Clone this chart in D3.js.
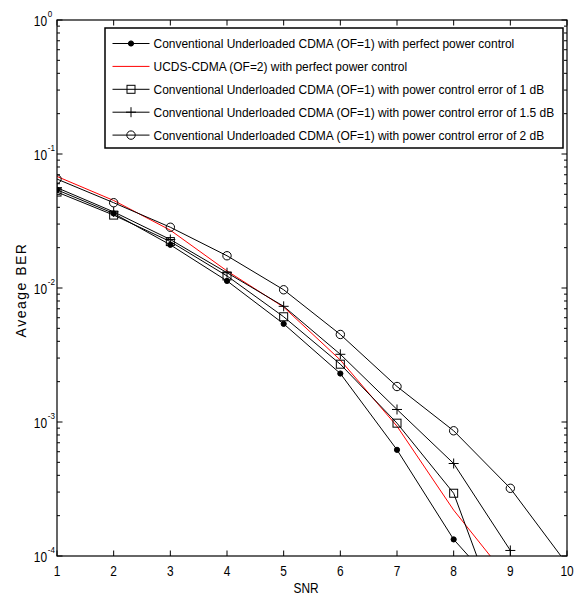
<!DOCTYPE html>
<html>
<head>
<meta charset="utf-8">
<script src="https://cdn.jsdelivr.net/npm/d3@7"></script>
<style>
  body { margin: 0; background: #fff; }
  svg text { font-family: "Liberation Sans", Arial, sans-serif; fill: #000; }
</style>
</head>
<body>
<div id="chart"></div>
<script>
// SNR values and BER curves
const snr = [1, 2, 3, 4, 5, 6, 7, 8, 9, 10];
const berConvPerfect = [0.054, 0.036, 0.021, 0.0113, 0.0054, 0.0023, 0.00062, 0.000133, 0.000045];
const berUcdsPerfect = [0.068, 0.045, 0.027, 0.0134, 0.0072, 0.0029, 0.00093, 0.00022, 0.000065];
const berPce1 = [0.052, 0.035, 0.0222, 0.0123, 0.0061, 0.0027, 0.00098, 0.000294, 0.000021];
const berPce15 = [0.056, 0.037, 0.023, 0.013, 0.0073, 0.0032, 0.00124, 0.00049, 0.00011];
const berPce2 = [0.065, 0.0433, 0.0284, 0.0174, 0.0097, 0.0045, 0.00184, 0.00086, 0.00032, 0.000087];

const legendLabels = [
  "Conventional Underloaded CDMA (OF=1) with perfect power control",
  "UCDS-CDMA (OF=2) with perfect power control",
  "Conventional Underloaded CDMA (OF=1) with power control error of 1 dB",
  "Conventional Underloaded CDMA (OF=1) with power control error of 1.5 dB",
  "Conventional Underloaded CDMA (OF=1) with power control error of 2 dB"
];
const xTicks = [1, 2, 3, 4, 5, 6, 7, 8, 9, 10];
const yMajor = [1, 1e-1, 1e-2, 1e-3, 1e-4];
const yExp = ["0", "-1", "-2", "-3", "-4"];

const series = [
  {values: berConvPerfect, color: "#000", marker: "dot"},
  {values: berUcdsPerfect, color: "#ff0000", marker: "none"},
  {values: berPce1, color: "#000", marker: "square"},
  {values: berPce15, color: "#000", marker: "plus"},
  {values: berPce2, color: "#000", marker: "circle"}
];

const W = 580, H = 601;
const plot = {left: 57, right: 567, top: 20, bottom: 556};

const svg = d3.select("#chart").append("svg")
    .attr("width", W)
    .attr("height", H);

const x = d3.scaleLinear().domain([1, 10]).range([plot.left, plot.right]);
const y = d3.scaleLog().domain([1e-4, 1]).range([plot.bottom, plot.top]);

// minor ticks 2..9 in each decade
let yMinor = [];
yMajor.slice(1).forEach(d => {
  for (let k = 2; k <= 9; k++) yMinor.push(d * k);
});

svg.append("clipPath").attr("id", "clip")
  .append("rect")
    .attr("x", plot.left).attr("y", plot.top)
    .attr("width", plot.right - plot.left)
    .attr("height", plot.bottom - plot.top);

// ticks, all pointing inward
let ticks = svg.append("g").attr("stroke", "#000").attr("stroke-width", 1);
xTicks.forEach(t => {
  ticks.append("line").attr("x1", x(t)).attr("x2", x(t))
    .attr("y1", plot.bottom).attr("y2", plot.bottom - 5.5);
  ticks.append("line").attr("x1", x(t)).attr("x2", x(t))
    .attr("y1", plot.top).attr("y2", plot.top + 5.5);
});
yMajor.forEach(t => {
  ticks.append("line").attr("x1", plot.left).attr("x2", plot.left + 5.5)
    .attr("y1", y(t)).attr("y2", y(t));
  ticks.append("line").attr("x1", plot.right).attr("x2", plot.right - 5.5)
    .attr("y1", y(t)).attr("y2", y(t));
});
yMinor.forEach(t => {
  ticks.append("line").attr("x1", plot.left).attr("x2", plot.left + 3)
    .attr("y1", y(t)).attr("y2", y(t));
  ticks.append("line").attr("x1", plot.right).attr("x2", plot.right - 3)
    .attr("y1", y(t)).attr("y2", y(t));
});

// tick labels
xTicks.forEach(t => {
  svg.append("text")
    .attr("transform", `translate(${x(t)},${plot.bottom + 19.5}) scale(0.85,1)`)
    .attr("text-anchor", "middle")
    .attr("font-size", 14)
    .text(t);
});
yMajor.forEach((t, i) => {
  let g = svg.append("g")
    .attr("transform", `translate(${plot.left - 10},${y(t) + 5.5}) scale(0.85,1)`);
  g.append("text")
    .attr("text-anchor", "end")
    .attr("font-size", 14)
    .text("10");
  g.append("text")
    .attr("x", 1).attr("y", -8.5)
    .attr("font-size", 9.5)
    .text(yExp[i]);
});

// axis titles
svg.append("text")
  .attr("transform", `translate(${(plot.left + plot.right) / 2 - 6},${plot.bottom + 37}) scale(0.85,1)`)
  .attr("text-anchor", "middle")
  .attr("font-size", 14)
  .text("SNR");
svg.append("text")
  .attr("transform", `translate(26,${(plot.top + plot.bottom) / 2 + 2}) rotate(-90)`)
  .attr("text-anchor", "middle")
  .attr("font-size", 14)
  .attr("letter-spacing", 1.5)
  .text("Aveage  BER");

// curves
const line = d3.line()
  .x((d, i) => x(snr[i]))
  .y(d => y(d));

let curves = svg.append("g").attr("clip-path", "url(#clip)");

function drawMarker(g, type, cx, cy) {
  if (type === "dot") {
    g.append("circle").attr("cx", cx).attr("cy", cy).attr("r", 2.6)
      .attr("fill", "#000").attr("stroke", "#000");
  } else if (type === "square") {
    g.append("rect").attr("x", cx - 4).attr("y", cy - 4)
      .attr("width", 8).attr("height", 8)
      .attr("fill", "none").attr("stroke", "#000");
  } else if (type === "plus") {
    g.append("path").attr("d", `M${cx - 5},${cy}H${cx + 5}M${cx},${cy - 5}V${cy + 5}`)
      .attr("fill", "none").attr("stroke", "#000");
  } else if (type === "circle") {
    g.append("circle").attr("cx", cx).attr("cy", cy).attr("r", 4.2)
      .attr("fill", "none").attr("stroke", "#000");
  }
}

series.forEach(s => {
  curves.append("path")
    .datum(s.values)
    .attr("fill", "none")
    .attr("stroke", s.color)
    .attr("stroke-width", 1)
    .attr("d", line);
  s.values.forEach((v, i) => {
    drawMarker(curves, s.marker, x(snr[i]), y(v));
  });
});

// frame
svg.append("rect")
  .attr("x", plot.left).attr("y", plot.top)
  .attr("width", plot.right - plot.left)
  .attr("height", plot.bottom - plot.top)
  .attr("fill", "none")
  .attr("stroke", "#000")
  .attr("stroke-width", 1.2);

// legend
const leg = {left: 105, right: 563, top: 28, bottom: 148, row0: 43.5, step: 22.9};
let lg = svg.append("g");
lg.append("rect")
  .attr("x", leg.left).attr("y", leg.top)
  .attr("width", leg.right - leg.left)
  .attr("height", leg.bottom - leg.top)
  .attr("fill", "#fff")
  .attr("stroke", "#000")
  .attr("stroke-width", 1.5);

let legendTexts = [];
series.forEach((s, i) => {
  let cy = leg.row0 + i * leg.step;
  lg.append("line")
    .attr("x1", 112.5).attr("x2", 149.5)
    .attr("y1", cy).attr("y2", cy)
    .attr("stroke", s.color).attr("stroke-width", 1);
  drawMarker(lg, s.marker, 131, cy);
  let t = lg.append("text")
    .attr("font-size", 13.5)
    .text(legendLabels[i]);
  legendTexts.push({t: t, cy: cy});
});
// squeeze the legend text to the width it has in the figure
let longest = d3.max(legendTexts, d => d.t.node().getComputedTextLength());
let sx = 401 / longest;
legendTexts.forEach(d => {
  d.t.attr("transform", `translate(153.5,${d.cy + 4.8}) scale(${sx},1)`);
});
</script>
</body>
</html>
